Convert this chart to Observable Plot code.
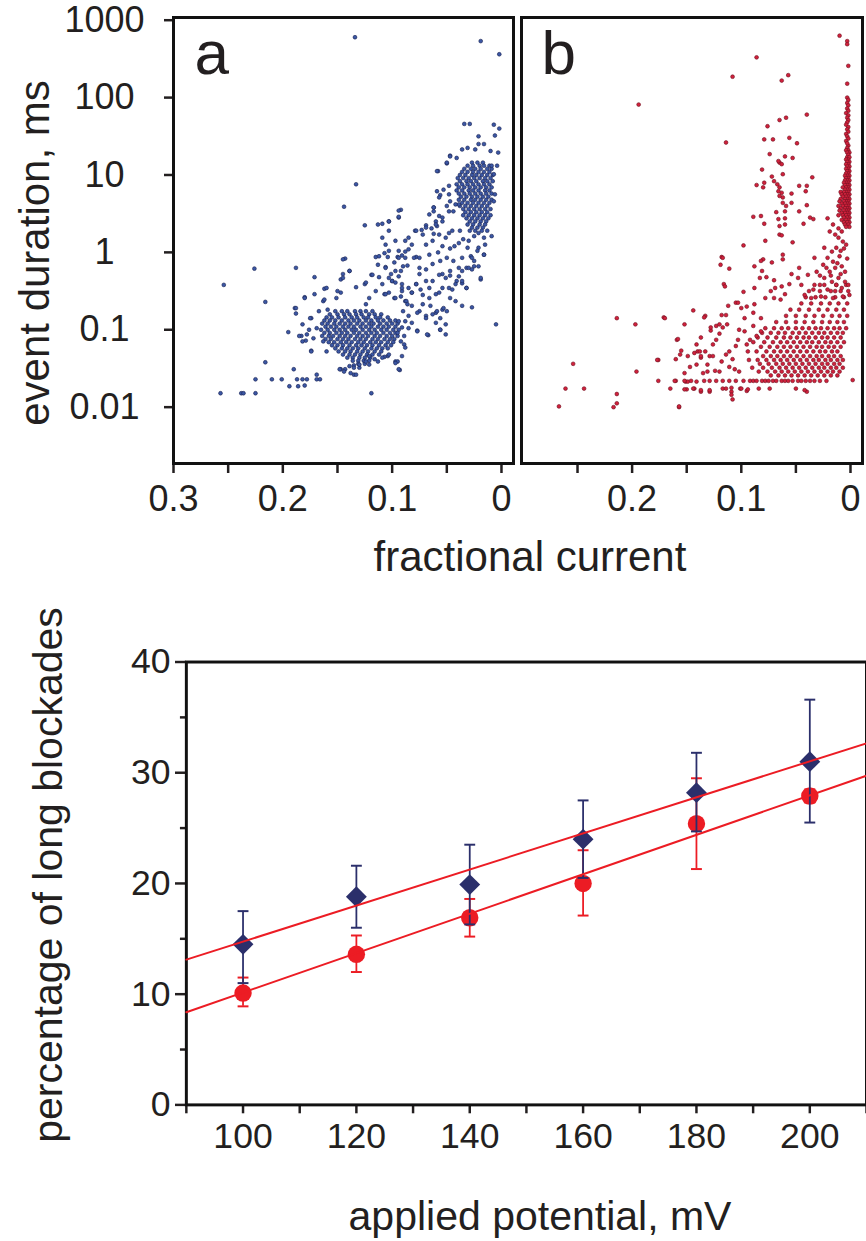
<!DOCTYPE html>
<html><head><meta charset="utf-8">
<script src="https://cdn.jsdelivr.net/npm/d3@7"></script>
<script src="https://cdn.jsdelivr.net/npm/@observablehq/plot@0.6"></script>
<style>
html,body{margin:0;padding:0;background:#fff;overflow:hidden;}
#wrap{position:relative;width:866px;height:1241px;overflow:hidden;font-family:'Liberation Sans',Arial,Helvetica,sans-serif;color:#231f20;}
#wrap svg{position:absolute;}
.lbl{position:absolute;white-space:nowrap;line-height:1;transform:translate(-50%,-50%);}
.rot{transform:translate(-50%,-50%) rotate(-90deg);}
</style></head><body><div id="wrap"></div>
<script>
// ---------- Panel a: fractional current vs log10(event duration / ms) ----------
const aSparse = [[0.134,2.78],[0.019,2.73],[0.002,2.56],[0.133,0.88],[0.144,0.59],[0.226,-0.21],[0.188,-0.2],[0.254,-0.42],[0.216,-0.64],[0.171,-0.32],[0.216,-1.42],[0.257,-1.82],[0.238,-1.82],[0.236,-1.82],[0.225,-1.82],[0.225,-1.64],[0.21,-1.64],[0.201,-1.64],[0.19,-1.51],[0.194,-1.73],[0.186,-1.73],[0.18,-1.72],[0.187,-1.64],[0.182,-1.64],[0.178,-1.64],[0.169,-1.58],[0.169,-1.64],[0.166,-1.64],[0.119,-1.82],[0.005,-0.93],[0.195,-1.03],
[0.143,-0.08],[0.139,-0.24],[0.145,-0.28],[0.147,-0.35],[0.162,-0.47],[0.18,-0.58],[0.189,-0.72],[0.188,-0.79],[0.174,-0.85],[0.182,-0.93],[0.176,-1.0],[0.183,-1.08],[0.179,-1.14],[0.172,-1.11],[0.174,-1.27],[0.167,-0.76],[0.163,-0.63],[0.159,-0.74],[0.151,-0.59],[0.147,-0.52],[0.133,-0.45],[0.125,-0.41],[0.119,-0.29],[0.112,-0.32],[0.106,-0.19],[0.104,-0.06],[0.115,-0.06],[0.124,-0.39],[0.112,-0.05],[0.095,-0.06],[0.091,-0.04],[0.088,-0.07],[0.078,-0.06],[0.097,-0.24],[0.094,-0.31],[0.1,-0.37],[0.091,-0.41],[0.085,-0.46],[0.078,-0.41],[0.074,-0.48],[0.069,-0.37],[0.107,-0.54],[0.103,-0.52],[0.098,-0.59],[0.092,-0.57],[0.088,-0.63],[0.082,-0.69],[0.075,-0.76],[0.069,-0.82],[0.065,-0.69],[0.06,-0.78],[0.054,-0.74],[0.056,-0.85],[0.088,-0.89],[0.091,-0.97],[0.095,-1.04],[0.085,-0.82],[0.092,-1.15],[0.089,-1.19],[0.097,-1.41],[0.093,-1.52],[0.077,-1.01],[0.067,-1.07],[0.056,-1.0],[0.051,-0.93],[0.091,-1.34],[0.104,-1.34],[0.113,-1.41],[0.147,-1.51],[0.143,-1.51],[0.139,-1.47],[0.135,-1.58],[0.13,-1.49],[0.135,-1.46],[0.121,-1.45],[0.116,-1.38],[0.107,-1.35],
[0.034,1.66],[0.029,1.66],[0.007,1.65],[0.002,1.6],[0.021,1.5],[0.006,1.51],[0.016,1.4],[0.021,1.4],[0.036,1.33],[0.031,1.35],[0.024,1.33],[0.01,1.31],[0.003,1.29],[0.047,1.25],[0.041,1.22],[0.05,1.15],[0.058,1.05],[0.009,1.12],[0.004,1.12],[0.007,1.01],[0.048,0.86],[0.053,0.81],[0.059,0.79],[0.056,0.74],[0.047,0.66],[0.05,0.6],[0.044,0.53],[0.039,0.62],[0.062,0.58],[0.062,0.53],[0.057,0.47],[0.06,0.4],[0.054,0.4],[0.059,0.34],[0.006,0.75],[0.007,0.66],[0.009,0.21],[0.092,0.55],[0.094,0.45],[0.103,0.4],[0.109,0.37],[0.079,0.28],[0.073,0.29],[0.069,0.35],[0.064,0.31],[0.062,0.24],[0.048,0.25],[0.038,0.28],[0.035,0.17],[0.03,0.15],[0.025,0.21],[0.021,0.25],[0.016,0.19],[0.015,0.1],[0.021,0.06],[0.031,0.06],[0.028,-0.05],[0.036,-0.07],[0.016,-0.03],[0.025,-0.11],[0.021,-0.18],[0.032,-0.2],[0.027,-0.22],[0.019,-0.35],[0.039,0.12],[0.043,0.08],[0.047,0.05],[0.054,0.08],[0.058,0.0],[0.066,-0.03],[0.075,-0.07],[0.082,0.1],[0.088,0.01],[0.094,-0.07],[0.098,-0.13],[0.106,-0.2],[0.107,-0.01],[0.101,-0.28],[0.092,-0.24],[0.086,-0.17],[0.075,-0.28],[0.069,-0.22],[0.063,-0.15],[0.056,-0.11],[0.05,-0.07],[0.054,-0.28],[0.047,-0.3],[0.041,-0.37],[0.036,-0.4],[0.032,-0.46],[0.048,-0.46],[0.057,-0.52],[0.066,-0.46],[0.072,-0.55],[0.082,-0.52],[0.091,-0.5],[0.1,-0.37],[0.106,-0.54],[0.097,-0.59],[0.087,-0.63],[0.063,-0.37],[0.078,-0.41],[0.039,-0.2],[0.044,-0.11],
[0.057,-0.29],[0.051,-0.33],[0.047,-0.24],[0.042,-0.41],[0.036,-0.37],[0.032,-0.46],[0.036,-0.69],[0.027,-0.71],[0.042,-0.63],[0.047,-0.59],[0.053,-0.72],[0.059,-0.76],[0.063,-0.8],[0.069,-0.85],[0.072,-0.67],[0.077,-0.78],[0.082,-0.91],[0.085,-0.98],[0.077,-1.02],[0.068,-1.06],[0.051,-1.06],[0.056,-1.0],[0.06,-0.91],[0.05,-0.76],[0.045,-0.48],[0.039,-0.31],[0.066,-0.59],[0.06,-0.54],[0.054,-0.46],[0.086,-0.67],[0.09,-0.76],[0.094,-0.89],[0.089,-1.08],[0.088,-1.23],[0.094,-1.51],[0.095,-1.41],[0.082,-0.52],[0.091,-0.46],[0.097,-0.39],[0.103,-0.33],[0.109,-0.41],[0.115,-0.5],[0.121,-0.59],[0.124,-0.67],[0.113,-0.16],[0.118,-0.29],[0.09,-0.18],[0.075,-0.2],[0.08,-0.07],[0.085,0.04],[0.094,0.02],[0.088,0.15],[0.103,0.02],[0.109,0.19],[0.106,0.1],[0.103,0.28],[0.097,0.15],[0.113,0.36],[0.103,0.4],[0.094,0.54],[0.094,0.46],[0.125,0.35],[0.145,-0.09],[0.139,-0.24],[0.145,-0.33],[0.15,-0.5],[0.16,-0.46],[0.162,-0.61],[0.171,-0.54],[0.18,-0.59],[0.188,-0.72],[0.175,-0.85],[0.178,-1.06],[0.185,-1.08],[0.182,-1.15],[0.174,-1.28],[0.169,-0.98],[0.163,-1.15],[0.16,-1.28],[0.148,-1.51],[0.144,-1.54],[0.135,-1.49],[0.13,-1.45],[0.124,-1.41],[0.121,-1.34],[0.109,-1.36],[0.103,-1.32],[0.097,-1.43],[0.133,-1.58],[0.138,-1.56],[0.036,-0.24],[0.03,-0.2],[0.025,-0.18],[0.019,-0.33],[0.027,-0.07],[0.022,0.02],[0.016,-0.03],[0.069,0.1],[0.063,0.15],[0.057,0.23],[0.051,0.19],[0.045,0.28],[0.069,0.32],[0.072,0.23],[0.078,0.28],[0.085,0.19],[0.06,0.36],[0.054,0.45],[0.048,0.53],[0.042,0.62],[0.066,0.49],[0.062,0.58],[0.057,0.71],[0.048,0.75],[0.059,1.05],[0.05,1.16],[0.047,1.24]];
// dense clusters of panel a, one row per read duration level: [log10 ms, x, x, ...]
const aDenseRows = [
[-0.76,0.152,0.146,0.141,0.134,0.129,0.124,0.118],
[-0.80,0.157,0.150,0.144,0.139,0.133,0.128,0.121,0.116,0.110],
[-0.84,0.160,0.155,0.149,0.143,0.137,0.132,0.126,0.122,0.115,0.111,0.104],
[-0.88,0.162,0.157,0.152,0.146,0.140,0.135,0.130,0.124,0.119,0.113,0.108,0.102,0.097],
[-0.92,0.164,0.159,0.153,0.148,0.143,0.138,0.132,0.127,0.121,0.117,0.111,0.105,0.100,0.095],
[-0.96,0.161,0.156,0.151,0.145,0.140,0.135,0.129,0.124,0.119,0.113,0.108,0.103,0.097],
[-1.00,0.165,0.159,0.153,0.148,0.143,0.137,0.133,0.127,0.121,0.116,0.110,0.105,0.099,0.094],
[-1.04,0.162,0.157,0.151,0.146,0.141,0.135,0.130,0.124,0.119,0.114,0.108,0.102,0.097],
[-1.08,0.164,0.158,0.154,0.148,0.143,0.138,0.132,0.127,0.122,0.116,0.111,0.105,0.100,0.095],
[-1.12,0.161,0.156,0.150,0.145,0.140,0.134,0.129,0.124,0.118,0.113,0.107,0.102,0.098],
[-1.16,0.158,0.153,0.147,0.142,0.137,0.131,0.126,0.120,0.115,0.110,0.104,0.099],
[-1.20,0.155,0.150,0.145,0.139,0.133,0.128,0.123,0.118,0.112,0.106,0.101],
[-1.24,0.152,0.146,0.141,0.136,0.131,0.125,0.119,0.114,0.109,0.104],
[-1.28,0.149,0.143,0.138,0.132,0.127,0.122,0.116,0.110],
[-1.32,0.145,0.139,0.134,0.129,0.123,0.118,0.112],
[-1.36,0.141,0.136,0.130,0.125,0.120],
[-1.40,0.136,0.131,0.126,0.121],
[-1.44,0.131,0.125],
[1.16,0.027,0.022,0.017],
[1.12,0.031,0.026,0.020,0.016,0.011],
[1.08,0.034,0.028,0.024,0.019,0.013,0.009],
[1.04,0.036,0.031,0.026,0.021,0.016,0.011],
[1.00,0.038,0.033,0.027,0.023,0.018,0.013,0.008],
[0.96,0.040,0.035,0.030,0.025,0.020,0.015,0.010],
[0.92,0.038,0.032,0.028,0.023,0.017,0.013,0.008],
[0.88,0.041,0.036,0.031,0.026,0.021,0.016,0.011],
[0.84,0.039,0.034,0.029,0.024,0.019,0.014,0.009],
[0.80,0.041,0.036,0.030,0.026,0.021,0.015,0.011],
[0.76,0.039,0.034,0.029,0.024,0.019,0.014,0.009],
[0.72,0.037,0.032,0.027,0.022,0.017,0.012],
[0.68,0.039,0.034,0.028,0.024,0.019,0.014,0.009],
[0.64,0.036,0.031,0.026,0.021,0.016,0.011],
[0.60,0.038,0.033,0.028,0.023,0.018,0.013],
[0.56,0.035,0.030,0.025,0.020,0.015,0.010],
[0.52,0.033,0.028,0.023,0.018,0.013],
[0.48,0.035,0.030,0.025,0.020,0.015,0.010],
[0.44,0.032,0.027,0.022,0.017,0.012],
[0.40,0.029,0.024,0.019,0.014],
[0.36,0.031,0.026,0.020,0.015],
[0.32,0.027,0.022,0.017],
[0.28,0.029,0.024,0.018,0.013]];

// ---------- Panel b ----------
const bSparse = [[0.01,2.8],[0.003,2.73],[0.003,2.69],[0.002,2.41],[0.003,2.18],[0.086,2.52],[0.108,2.27],[0.063,2.22],[0.057,2.29],[0.194,1.91],[0.04,1.78],[0.059,1.74],[0.065,1.71],[0.076,1.63],[0.114,1.42],[0.079,1.46],[0.071,1.46],[0.056,1.48],[0.049,1.41],[0.074,1.27],[0.065,1.16],[0.06,1.24],[0.053,1.22],[0.066,1.18],[0.063,1.14],[0.081,1.07],[0.062,1.01],[0.072,0.98],[0.07,0.92],[0.086,0.87],[0.08,0.84],[0.079,0.9],[0.067,0.88],[0.065,0.84],[0.063,0.77],[0.062,0.71],[0.065,0.73],[0.066,0.79],[0.062,0.64],[0.059,0.6],[0.054,0.64],[0.054,0.76],[0.047,0.86],[0.04,0.86],[0.041,0.79],[0.035,0.97],[0.04,0.61],[0.068,0.52],[0.06,0.53],[0.047,0.53],[0.037,0.45],[0.034,0.43],[0.089,0.46],[0.082,0.47],[0.079,0.37],[0.066,0.43],[0.06,0.44],[0.065,0.34],[0.06,0.36],[0.043,0.37],[0.053,0.13],[0.065,0.23],[0.063,0.22],[0.078,0.15],[0.098,0.09],[0.118,-0.06],[0.117,-0.07],[0.119,-0.16],[0.111,-0.21],[0.116,-0.41],[0.115,-0.44],[0.08,-0.09],[0.082,-0.11],[0.088,-0.18],[0.081,-0.24],[0.062,-0.09],[0.062,-0.03],[0.072,-0.13],[0.047,-0.2],[0.054,-0.28],[0.098,-0.51],[0.105,-0.65],[0.114,-0.81],[0.095,-0.7],[0.089,-0.78],[0.088,-0.46],[0.083,-0.33],[0.077,-0.32],[0.07,-0.36],[0.069,-0.46],[0.063,-0.44],[0.056,-0.41],[0.073,-0.5],[0.078,-0.59],[0.07,-0.59],[0.064,-0.61],[0.06,-0.54],[0.144,-0.75],[0.133,-0.82],[0.134,-0.84],[0.171,-0.84],[0.17,-0.85],[0.214,-0.85],[0.197,-0.93],[0.152,-0.93],[0.159,-1.13],[0.254,-1.44],[0.261,-1.76],[0.244,-1.76],[0.267,-1.99],[0.217,-2.0],[0.214,-1.95],[0.214,-1.83],[0.176,-1.39],[0.176,-1.66],[0.196,-1.54],[0.165,-1.76],[0.157,-2.0],[0.16,-1.66],[0.151,-1.67],[0.149,-1.67],[0.141,-1.67],[0.15,-1.77],[0.143,-1.76],[0.152,-1.56],[0.147,-1.48],[0.141,-1.45],[0.137,-1.36],[0.133,-1.28],[0.126,-1.19],[0.123,-1.13],[0.12,-1.05],[0.117,-0.97],[0.14,-1.28],[0.137,-1.34],[0.129,-1.34],[0.126,-1.34],[0.131,-1.45],[0.135,-1.56],[0.131,-1.54],[0.124,-1.53],[0.12,-1.54],[0.123,-1.66],[0.117,-1.66],[0.111,-1.66],[0.105,-1.66],[0.137,-1.8],[0.129,-1.8],[0.117,-1.76],[0.114,-1.76],[0.109,-1.8],[0.108,-1.9],[0.101,-1.76],[0.095,-1.79],[0.084,-1.76],[0.074,-1.76],[0.05,-1.76],[0.04,-1.8],[-0.002,-1.65],[0.111,-1.48],[0.106,-1.51],[0.102,-1.54],[0.108,-1.38],[0.114,-1.32],[0.118,-1.41],[0.111,-1.28],[0.105,-1.21],[0.095,-1.19],[0.092,-1.13],[0.086,-1.08],[0.082,-1.02],[0.097,-1.02],[0.103,-1.13],[0.123,-0.95],[0.128,-1.01],[0.113,-0.93],[0.102,-1.0],[0.089,-0.95],[0.097,-0.85],[0.088,-0.67],[0.082,-0.85],
[0.118,-0.81],[0.112,-0.69],[0.103,-0.65],[0.1,-0.72],[0.12,-0.93],[0.128,-0.97],[0.137,-1.1],[0.141,-1.19],[0.158,-1.12],[0.155,-1.27],[0.156,-1.32],[0.16,-1.38],[0.149,-1.34],[0.143,-1.3],[0.138,-1.28],[0.177,-1.39],[0.161,-1.66],[0.152,-1.66],[0.146,-1.66],[0.134,-1.66],[0.129,-1.66],[0.152,-1.77],[0.144,-1.76],[0.137,-1.78],[0.129,-1.78],[0.109,-1.75],[0.109,-1.84],[0.1,-1.76],[0.094,-1.77],[0.042,-1.78],[0.157,-1.99],
[0.021,0.44],[0.016,0.36],[0.011,0.31],[0.019,0.27],[0.014,0.23],[0.008,0.27],[0.011,0.19],[0.007,0.14],[0.024,0.06],[0.017,0.01],[0.013,0.06],[0.021,-0.07],[0.016,-0.12],[0.01,-0.05],[0.014,-0.2],[0.008,-0.18],[0.005,-0.25],[0.019,-0.25],[0.033,-0.07],[0.025,-0.16],[0.031,-0.25],[0.024,-0.33],[0.017,-0.38],[0.011,-0.33],[0.005,-0.38],[0.028,-0.42],[0.034,-0.48],[0.021,-0.48],[0.014,-0.5],[0.008,-0.46],[0.002,-0.42],[0.039,-0.29],[0.045,-0.42],[0.048,-0.33],[0.042,-0.55],[0.036,-0.59],[0.027,-0.57],[0.016,-0.59],[0.007,-0.57],[0.001,-0.55],
[0.004,0.1],[0.009,0.02],[0.003,-0.08],[0.012,-0.14],[0.006,0.05],[0.018,-0.3],[0.009,-0.28],[0.013,-0.42],[0.022,-0.2],[0.028,-0.3],
[0.003,2.0],[0.002,1.97],[0.003,1.93],[0.002,1.9],[0.003,1.86],[0.002,1.83],[0.004,1.8],[0.002,1.77],[0.003,1.74],[0.002,1.71],[0.003,1.68],[0.004,1.65],[0.002,1.62],[0.003,1.59],[0.002,1.56],[0.004,1.53],[0.003,1.5],[0.002,1.47],[0.004,1.44],[0.003,1.41]];
const bDenseRows = [
[1.38,0.002],[1.35,0.003],[1.32,0.002,0.004],[1.29,0.001,0.003],[1.26,0.002],[1.23,0.003,0.001],[1.20,0.002,0.004],[1.17,0.001,0.003],[1.14,0.002,0.004],[1.11,0.001,0.003],[1.08,0.002,0.004],[1.05,0.001,0.003],[1.02,0.002,0.004],[0.99,0.001,0.003,0.005],[0.96,0.002,0.004],[0.93,0.001,0.003,0.005],[0.90,0.002,0.004,0.006],[0.87,0.001,0.003,0.005],[0.84,0.002,0.004,0.007],[0.81,0.001,0.003,0.005],[0.78,0.002,0.004,0.006,0.009],[0.75,0.001,0.003,0.005,0.008],[0.72,0.002,0.004,0.007],[0.69,0.001,0.003,0.005,0.009],[0.66,0.002,0.004,0.006,0.010],[0.63,0.001,0.003,0.005,0.008],[0.60,0.002,0.004,0.007,0.011],[0.57,0.001,0.003,0.005,0.009],[0.54,0.002,0.004,0.006,0.010],[0.51,0.001,0.003,0.005,0.008],[0.48,0.002,0.004,0.007,0.011],[0.45,0.001,0.003,0.006],[0.42,0.002,0.004,0.008],[0.39,0.001,0.003,0.006],[0.36,0.002,0.005],[0.33,0.001,0.004],
[-0.42,0.004,0.013,0.024,0.033],
[-0.50,0.002,0.009,0.018,0.028,0.038],
[-0.58,0.006,0.014,0.023,0.032,0.041],
[-0.66,0.003,0.011,0.019,0.027,0.036,0.045],
[-0.74,0.006,0.013,0.021,0.029,0.038,0.047,0.055],
[-0.82,0.003,0.010,0.017,0.025,0.033,0.041,0.050,0.059],
[-0.90,0.006,0.012,0.019,0.026,0.034,0.042,0.050,0.059,0.068],
[-0.98,0.004,0.010,0.015,0.021,0.027,0.032,0.038,0.044,0.050,0.057,0.063,0.070,0.078],
[-1.04,0.007,0.012,0.018,0.024,0.029,0.035,0.041,0.047,0.053,0.060,0.066,0.073,0.081],
[-1.10,0.009,0.015,0.021,0.026,0.032,0.038,0.043,0.049,0.055,0.061,0.068,0.076,0.085],
[-1.16,0.006,0.012,0.018,0.023,0.029,0.035,0.040,0.046,0.052,0.058,0.064,0.071,0.079,0.089],
[-1.22,0.009,0.015,0.020,0.026,0.031,0.037,0.043,0.049,0.055,0.061,0.067,0.074,0.082],
[-1.28,0.012,0.017,0.023,0.028,0.034,0.040,0.046,0.052,0.058,0.064,0.070,0.077,0.086,0.094],
[-1.34,0.009,0.015,0.020,0.026,0.031,0.037,0.043,0.049,0.055,0.061,0.067,0.073,0.080],
[-1.39,0.007,0.012,0.018,0.023,0.029,0.034,0.040,0.046,0.052,0.058,0.064,0.070,0.077,0.085,0.093],
[-1.44,0.010,0.015,0.021,0.026,0.032,0.038,0.044,0.050,0.056,0.062,0.068,0.075,0.083],
[-1.49,0.007,0.013,0.018,0.024,0.029,0.035,0.041,0.047,0.053,0.059,0.065,0.072,0.080,0.090],
[-1.54,0.010,0.016,0.021,0.027,0.033,0.039,0.045,0.051,0.057,0.063,0.069,0.076,0.084],
[-1.59,0.012,0.018,0.024,0.030,0.036,0.042,0.048,0.054,0.060,0.066,0.073],
[-1.66,0.098,0.092,0.089,0.086,0.081,0.078,0.075,0.071,0.068,0.063,0.060,0.057,0.053,0.048,0.045,0.041,0.037,0.033,0.028,0.022]];

// axis ticks
const xTicks = [0.3,0.25,0.2,0.15,0.1,0.05,0];
const xTickLabelsA = [0.3,0.2,0.1,0];
const xTickLabelsB = [0.2,0.1,0];
const durTicks = [0.01,0.1,1,10,100,1000];

// ---------- Bottom panel ----------
const potentials = [100,120,140,160,180,200];
const blueMean = [14.5,18.8,19.9,24.0,28.2,31.0];
const blueLow  = [11.0,16.0,16.3,20.5,24.7,25.5];
const blueHigh = [17.5,21.6,23.5,27.5,31.8,36.6];
const redMean  = [10.1,13.6,16.9,20.0,25.4,27.9];
const redLow   = [8.9,12.0,15.2,17.1,21.3,27.3];
const redHigh  = [11.5,15.3,18.6,23.0,29.5,28.5];
const blueFit = {slope:0.1628, intercept:-1.53};
const redFit  = {slope:0.178, intercept:-7.65};
const potTicks = [90,100,110,120,130,140,150,160,170,180,190,200,210];
const potLabels = [100,120,140,160,180,200];
const pctMajor = [0,10,20,30,40];
const pctMinor = [5,15,25,35];

const FONT = "'Liberation Sans',Arial,Helvetica,sans-serif";
const wrap = document.getElementById("wrap");
const toRows = (sparse, dense) => [
  ...dense.flatMap(([e,...xs]) => xs.map(x => ({x, ms: 10 ** e}))),
  ...sparse.map(([x,e]) => ({x, ms: 10 ** e}))
];
const dataA = toRows(aSparse, aDenseRows);
const dataB = toRows(bSparse, bDenseRows);
const yDom = [10 ** -2.728, 10 ** 3.035];

function place(svg, left, top) { svg.style.left = left + "px"; svg.style.top = top + "px"; wrap.appendChild(svg); }

const panelA = Plot.plot({
  width: 517, height: 530, marginLeft: 173, marginRight: 4, marginTop: 17, marginBottom: 67,
  style: `font-family:${FONT};font-size:36px;background:transparent;color:#231f20;`,
  x: {domain: [0.3, -0.011], axis: null},
  y: {type: "log", domain: yDom, axis: null},
  marks: [
    Plot.dot(dataA, {x: "x", y: "ms", r: 1.9, fill: "#3b57a4", stroke: "#1a2150", strokeWidth: 0.6}),
    Plot.axisX({ticks: xTicks, tickFormat: d => xTickLabelsA.includes(d) ? String(d) : "", label: null, fontSize: 36, tickSize: 10, tickPadding: 12, strokeWidth: 2.5, fill: "#231f20"}),
    Plot.axisY({ticks: durTicks, tickFormat: d => String(d), label: null, fontSize: 36, tickSize: 9, tickPadding: 60, textAnchor: "middle", strokeWidth: 2.5, fill: "#231f20"}),
    Plot.frame({stroke: "#111", strokeWidth: 3}),
    Plot.text(["a"], {frameAnchor: "top-left", lineAnchor: "bottom", textAnchor: "start", dx: 21, dy: 56, fontSize: 62, fill: "#231f20"})
  ]
});
place(panelA, 0, 0);

const panelB = Plot.plot({
  width: 349, height: 530, marginLeft: 4, marginRight: 4, marginTop: 17, marginBottom: 67,
  style: `font-family:${FONT};font-size:36px;background:transparent;color:#231f20;`,
  x: {domain: [0.3013, -0.011], axis: null},
  y: {type: "log", domain: yDom, axis: null},
  marks: [
    Plot.dot(dataB, {x: "x", y: "ms", r: 1.9, fill: "#d0213c", stroke: "#6e1020", strokeWidth: 0.6}),
    Plot.axisX({ticks: xTicks.filter(d => d < 0.3), tickFormat: d => xTickLabelsB.includes(d) ? String(d) : "", label: null, fontSize: 36, tickSize: 10, tickPadding: 12, strokeWidth: 2.5, fill: "#231f20"}),
    Plot.frame({stroke: "#111", strokeWidth: 3}),
    Plot.text(["b"], {frameAnchor: "top-left", lineAnchor: "bottom", textAnchor: "start", dx: 20, dy: 56, fontSize: 62, fill: "#231f20"})
  ]
});
place(panelB, 517, 0);

// bottom chart
const blue = potentials.map((p,i) => ({p, m: blueMean[i], lo: blueLow[i], hi: blueHigh[i]}));
const red  = potentials.map((p,i) => ({p, m: redMean[i], lo: redLow[i], hi: redHigh[i]}));
const xDom = [90, 210];
const fitLine = f => xDom.map(p => ({p, v: f.slope * p + f.intercept}));
const cap = {draw(ctx, size) { const w = Math.sqrt(size / Math.PI); ctx.moveTo(-w, 0); ctx.lineTo(w, 0); }};
const BLUE = "#2b2f6b", RED = "#ec1c24";
const errMarks = (d, color) => [
  Plot.ruleX(d, {x: "p", y1: "lo", y2: "hi", stroke: color, strokeWidth: 1.8}),
  Plot.dot(d, {x: "p", y: "lo", symbol: cap, r: 5.5, stroke: color, strokeWidth: 2, fill: "none"}),
  Plot.dot(d, {x: "p", y: "hi", symbol: cap, r: 5.5, stroke: color, strokeWidth: 2, fill: "none"})
];
const bottom = Plot.plot({
  width: 876, height: 560, marginLeft: 188, marginRight: 0, marginTop: 42, marginBottom: 70,
  style: `font-family:${FONT};font-size:36px;background:transparent;color:#231f20;`,
  x: {domain: xDom, axis: null},
  y: {domain: [0, 40], axis: null},
  marks: [
    Plot.axisY({ticks: pctMajor, label: null, fontSize: 36, tickSize: 11, tickPadding: 5, strokeWidth: 2.5, fill: "#231f20"}),
    Plot.axisY({ticks: pctMinor, label: null, tickSize: 6, tickFormat: () => "", strokeWidth: 2.5}),
    Plot.axisX({ticks: potTicks, label: null, fontSize: 36, tickSize: 9, tickPadding: 9, strokeWidth: 2.5, tickFormat: d => potLabels.includes(d) ? String(d) : "", fill: "#231f20"}),
    Plot.frame({stroke: "#111", strokeWidth: 3}),
    ...errMarks(red, RED),
    Plot.dot(red, {x: "p", y: "m", r: 8.8, fill: RED}),
    ...errMarks(blue, BLUE),
    Plot.dot(blue, {x: "p", y: "m", r: 9.5, symbol: "diamond2", fill: BLUE}),
    Plot.line(fitLine(blueFit), {x: "p", y: "v", stroke: RED, strokeWidth: 2}),
    Plot.line(fitLine(redFit), {x: "p", y: "v", stroke: RED, strokeWidth: 2})
  ]
});
place(bottom, 0, 620);

function label(text, x, y, size, rot) {
  const d = document.createElement("div");
  d.className = "lbl" + (rot ? " rot" : "");
  d.textContent = text;
  d.style.left = x + "px"; d.style.top = y + "px"; d.style.fontSize = size + "px";
  wrap.appendChild(d);
}
label("event duration, ms", 35, 253, 42, true);
label("fractional current", 530, 557, 42, false);
label("percentage of long blockades", 48, 875, 41, true);
label("applied potential, mV", 540, 1216, 41, false);
</script></body></html>
